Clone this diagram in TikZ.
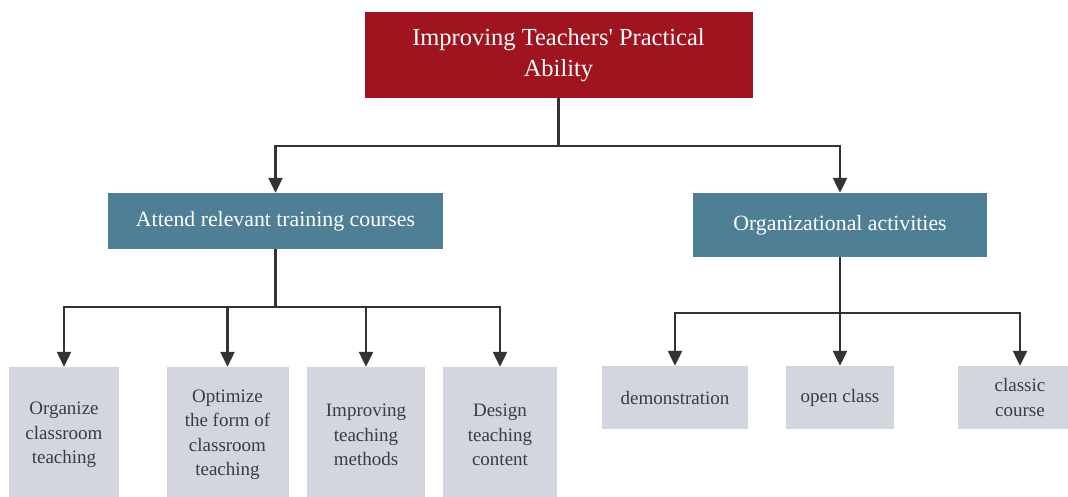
\documentclass[tikz,border=0pt]{standalone}
\usepackage{fontspec}
\setmainfont{Liberation Serif}
\usetikzlibrary{arrows.meta}
\definecolor{topred}{HTML}{A0141F}
\definecolor{midteal}{HTML}{4E7F95}
\definecolor{leafgray}{HTML}{D3D6DE}
\definecolor{linegray}{HTML}{333333}
\definecolor{leaftext}{HTML}{3C3C3C}
\tikzset{
  topbox/.style={fill=topred, text=white, minimum width=388pt, minimum height=86pt, align=center, inner sep=0pt, font=\fontsize{24.5}{31}\selectfont},
  midbox/.style={fill=midteal, text=white, inner sep=0pt, font=\fontsize{21.8}{26}\selectfont},
  leafbox/.style={fill=leafgray, text=leaftext, align=center, inner sep=0pt, font=\fontsize{19}{24.5}\selectfont},
  link/.style={draw=linegray, line width=2.3pt, -{Triangle[length=15pt,width=14pt]}},
}
\begin{document}
\begin{tikzpicture}[x=1pt,y=-1pt]

      \path[use as bounding box] (0,0) rectangle (1068,497);
      \clip (0,0) rectangle (1068,497);

      \node[topbox] (ability) at (558.5,55) {Improving Teachers\textquotesingle\ Practical\\Ability};
      \node[midbox, minimum width=335pt, minimum height=56pt] (training) at (275.5,221) {Attend relevant training courses};
      \node[midbox, minimum width=294pt, minimum height=64pt] (activities) at (840,225) {Organizational activities};

      \node[leafbox, minimum width=110pt, minimum height=136pt] (organize) at (64,435) {Organize\\classroom\\teaching};
      \node[leafbox, minimum width=122pt, minimum height=136pt] (form) at (227.5,435) {Optimize\\the form of\\classroom\\teaching};
      \node[leafbox, minimum width=118pt, minimum height=136pt] (methods) at (366,435) {Improving\\teaching\\methods};
      \node[leafbox, minimum width=114pt, minimum height=136pt] (content) at (500,435) {Design\\teaching\\content};

      \node[leafbox, minimum width=146pt, minimum height=63pt] (demo) at (675,397.5) {demonstration};
      \node[leafbox, minimum width=108pt, minimum height=63pt] (openclass) at (840,397.5) {open class};
      \node[leafbox, minimum width=124pt, minimum height=63pt] (classic) at (1020,397.5) {classic\\course};

      \coordinate (j0) at (558.5,146);
      \coordinate (j1) at (275.5,307);
      \coordinate (j2) at (840,313);

      \draw[link] (ability.south) -- (j0) -| (training.north);
      \draw[link] (j0) -| (activities.north);

      \draw[link] (training.south) -- (j1) -| (organize.north);
      \foreach \leaf in {form,methods,content}
        \draw[link] (j1) -| (\leaf.north);

      \draw[link] (activities.south) -- (j2) -| (demo.north);
      \draw[link] (j2) -- (openclass.north);
      \draw[link] (j2) -| (classic.north);

    \end{tikzpicture}
\end{document}
